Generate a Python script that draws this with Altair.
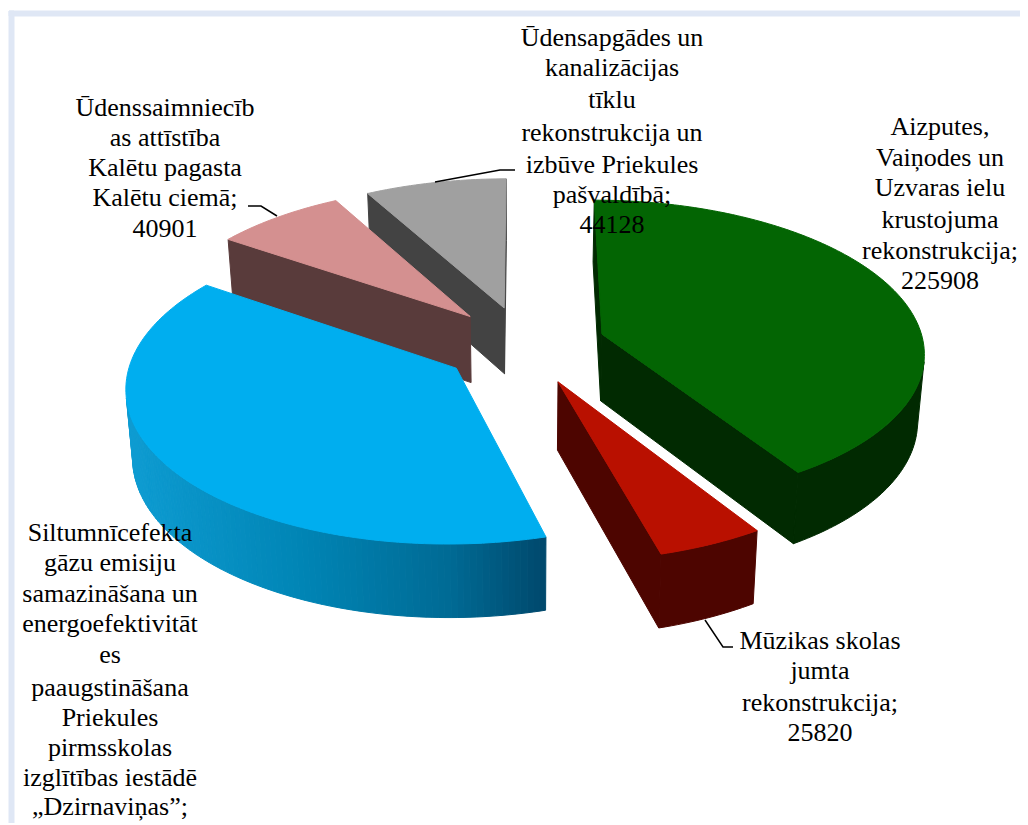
import math
import altair as alt
import pandas as pd

# ---- values ----
names = ["Aizputes", "Muzikas", "Siltumnicefekta", "Udenssaimnieciba", "Udensapgades"]
values = [225908, 25820, 214000, 40901, 44128]
top_colors = ["#036503", "#b91000", "#00aeef", "#d49090", "#a0a0a0"]
wall_colors = ["#012a01", "#4d0500", None, "#593b3b", "#434343"]
paint_order = [4, 3, 0, 1, 2]

label_x = [612, 165, 940, 820, 110]
label_lines = [
    ["Ūdensapgādes un", "kanalizācijas", "tīklu", "rekonstrukcija un", "izbūve Priekules", "pašvaldībā;", "44128"],
    ["Ūdenssaimniecīb", "as attīstība", "Kalētu pagasta", "Kalētu ciemā;", "40901"],
    ["Aizputes,", "Vaiņodes un", "Uzvaras ielu", "krustojuma", "rekonstrukcija;", "225908"],
    ["Mūzikas skolas", "jumta", "rekonstrukcija;", "25820"],
    ["Siltumnīcefekta", "gāzu emisiju", "samazināšana un", "energoefektivitāt", "es", "paaugstināšana",
     "Priekules", "pirmsskolas", "izglītības iestādē", "„Dzirnaviņas”;"],
]
label_y = [
    [38, 68, 100, 133, 165, 195, 225],
    [108, 138, 168, 198, 229],
    [127, 158, 188, 220, 251, 281],
    [641, 671, 703, 733],
    [533, 563, 594, 624, 655, 688, 718, 748, 778, 807],
]
leaders = [
    [(248, 206), (261, 206), (277, 216)],
    [(435, 182), (500, 170), (515, 170)],
    [(705, 620), (723, 647), (733, 647)],
]
frame_color = "#dfe7f5"

# ---- projection of the tilted pie ----
CX, CY, RX, RY, K = 524, 345, 322, 151, 0.11
EX_U, EX_V = 0.254, 0.26


def proj(u, v):
    s = 1 + K * v
    return CX + RX * u / s, CY - RY * v / s


def lower(p):
    x, y = p
    return CX + (x - CX) * 0.983, y + 67 + 0.033 * (y - CY)


def cross(p, q):
    a, b = lower(p), p
    return (q[0] - p[0]) * (a[1] - b[1]) - (q[1] - p[1]) * (a[0] - b[0])


def blue_wall(x):
    stops = [(125, (14, 156, 210)), (300, (0, 133, 181)), (450, (0, 106, 148)), (545, (0, 72, 108))]
    for (x0, c0), (x1, c1) in zip(stops, stops[1:]):
        if x <= x1:
            t = max(0, (x - x0) / (x1 - x0))
            return "#%02x%02x%02x" % tuple(round(a + (b - a) * t) for a, b in zip(c0, c1))
    return "#00486c"


rows = []


def add_poly(points, color):
    pid = add_poly.n
    add_poly.n += 1
    for i, (x, y) in enumerate(list(points) + [points[0]]):
        rows.append({"poly": pid, "seq": i, "x": x, "y": y, "fill": color})


add_poly.n = 0

# frame band at the top and on the left of the reference
add_poly([(9, 11), (1020, 11), (1020, 16), (9, 16)], frame_color)
add_poly([(9, 11), (14, 11), (14, 823), (9, 823)], frame_color)

total = sum(values)
starts = [sum(values[:i]) / total * 2 * math.pi for i in range(len(values))]
ends = [sum(values[:i + 1]) / total * 2 * math.pi for i in range(len(values))]

for i in paint_order:
    a0, a1 = starts[i], ends[i]
    mid = (a0 + a1) / 2
    ou, ov = EX_U * math.sin(mid), EX_V * math.cos(mid)
    apex = proj(ou, ov)
    n = max(8, int((a1 - a0) / (2 * math.pi) * 360))
    arc = [proj(ou + math.sin(a0 + (a1 - a0) * j / n), ov + math.cos(a0 + (a1 - a0) * j / n)) for j in range(n + 1)]
    wall = wall_colors[i]
    side = lambda x: wall if wall else blue_wall(x)
    # the two cut faces, only where they face the viewer
    if cross(apex, arc[0]) < 0:
        add_poly([apex, arc[0], lower(arc[0]), lower(apex)], side(arc[0][0]))
    if cross(apex, arc[-1]) > 0:
        add_poly([apex, arc[-1], lower(arc[-1]), lower(apex)], side(arc[-1][0]))
    # the outer wall: one face when its colour is flat, slivers for the blue gradient
    seen = [(p, q) for p, q in zip(arc, arc[1:]) if cross(p, q) < 0]
    if seen and wall:
        run = [seen[0][0]] + [q for _, q in seen]
        add_poly(run + [lower(p) for p in reversed(run)], wall)
    elif seen:
        for p, q in seen:
            add_poly([p, q, lower(q), lower(p)], side((p[0] + q[0]) / 2))
    add_poly([apex] + arc, top_colors[i])

df = pd.DataFrame(rows)

label_rows = []
for x, lines, ys in zip(label_x, label_lines, label_y):
    for t, y in zip(lines, ys):
        label_rows.append({"x": x, "y": y, "t": t})

leader_rows = []
for i, path in enumerate(leaders):
    for j, (x, y) in enumerate(path):
        leader_rows.append({"id": i, "seq": j, "x": x, "y": y})

x_enc = alt.X("x:Q", scale=alt.Scale(domain=[8, 1020]), axis=None)
y_enc = alt.Y("y:Q", scale=alt.Scale(domain=[823, 8]), axis=None)

faces = alt.Chart(df).mark_line(strokeWidth=1.0, clip=False).encode(
    x=x_enc, y=y_enc, detail="poly:N", order="seq:Q",
    fill=alt.Fill("fill:N", scale=None), stroke=alt.Stroke("fill:N", scale=None),
)
lead = alt.Chart(pd.DataFrame(leader_rows)).mark_line(color="black", strokeWidth=1.5).encode(
    x=x_enc, y=y_enc, detail="id:N", order="seq:Q"
)
text = alt.Chart(pd.DataFrame(label_rows)).mark_text(
    font="Liberation Serif", fontSize=26, color="black", align="center", baseline="middle"
).encode(x=x_enc, y=y_enc, text="t:N")

chart = (faces + lead + text).properties(
    width=1012, height=815, padding=0, autosize=alt.AutoSizeParams(type="none"),
    background="white",
).configure_view(stroke=None)

chart.save("out.html", embed_options={"renderer": "svg", "actions": False})
